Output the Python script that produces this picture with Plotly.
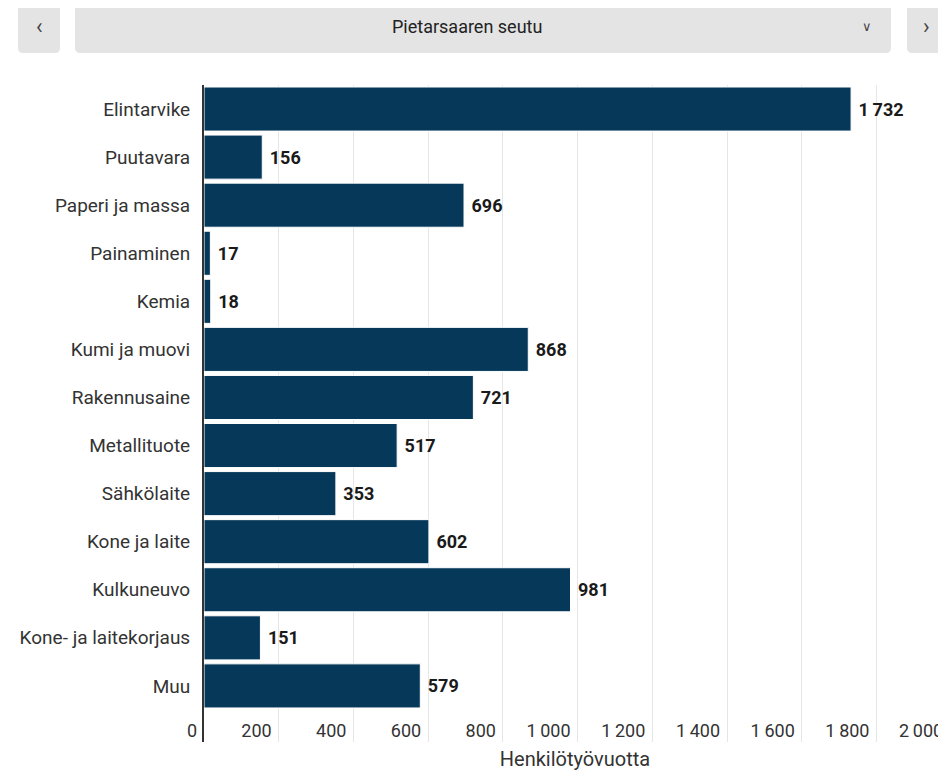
import plotly.graph_objects as go

categories = ["Elintarvike", "Puutavara", "Paperi ja massa", "Painaminen", "Kemia",
              "Kumi ja muovi", "Rakennusaine", "Metallituote", "Sähkölaite",
              "Kone ja laite", "Kulkuneuvo", "Kone- ja laitekorjaus", "Muu"]
values = [1732, 156, 696, 17, 18, 868, 721, 517, 353, 602, 981, 151, 579]
tick_values = [0, 200, 400, 600, 800, 1000, 1200, 1400, 1600, 1800, 2000]
region = "Pietarsaaren seutu"
axis_title = "Henkilötyövuotta"

# page body has an 8px margin; figure sized to end at the viewport edge
OFF = 8
W, H = 946 - OFF, 771 - OFF
PLOT_LEFT, PLOT_TOP, PLOT_BOTTOM = 204, 85, 742   # in page pixels
L, R = PLOT_LEFT - OFF, 0
T = PLOT_TOP - OFF
B = H - (PLOT_BOTTOM - OFF)
PX_PER_UNIT = 0.3736
x_max = (W - L - R) / PX_PER_UNIT

def fmt(v):
    return f"{v:,}".replace(",", "\u2009")

def px(x):  # page px -> paper
    return (x - OFF - L) / (W - L - R)

def py(y):  # page px -> paper
    return (H - B - (y - OFF)) / (H - B - T)

BAR = "#06385a"
GRID = "#e6e6e6"
FONT = "Roboto"
TXT = "#333333"

fig = go.Figure(go.Bar(
    x=values, y=categories, orientation="h",
    marker=dict(color=BAR, line=dict(color="#ffffff", width=1)),
    text=["\u00a0" + fmt(v) for v in values],
    textposition="outside", cliponaxis=False,
    textfont=dict(family=FONT, size=18, color="#1a1a1a", weight="bold"),
    hoverinfo="skip",
))

n = len(categories)
extra = 32 / 48
fig.update_yaxes(
    range=[n - 0.5 + extra, -0.5],
    showline=True, linecolor="#333333", linewidth=2,
    showgrid=False, ticks="", ticklabelstandoff=8,
    tickfont=dict(family=FONT, size=19, color=TXT),
    fixedrange=True,
)
fig.update_xaxes(
    range=[0, x_max],
    tickvals=tick_values, ticktext=[fmt(v) for v in tick_values],
    showgrid=True, gridcolor=GRID, gridwidth=1,
    zeroline=False, showline=False, ticks="",
    ticklabelposition="inside left", ticklabeloverflow="allow",
    ticklabelshift=-7, ticklabelstandoff=-5,
    tickfont=dict(family=FONT, size=18, color=TXT),
    title=dict(text=axis_title, font=dict(family=FONT, size=20, color=TXT), standoff=16),
    fixedrange=True,
)

annotations = []
# tick labels that fall beyond the visible plot edge
for v in tick_values:
    if v > x_max:
        annotations.append(dict(x=v / x_max, xref="paper", y=py(730), yref="paper", text=fmt(v),
                                showarrow=False, xanchor="right", yanchor="middle", xshift=-6,
                                font=dict(family=FONT, size=18, color=TXT)))

shapes = []
def rrect(x0, y0, x1, y1, r=5):
    a0, a1 = px(x0), px(x1)
    b0, b1 = py(y0), py(y1)
    rx = r / (W - L - R)
    ry = r / (H - B - T)
    path = (f"M {a0+rx},{b0} L {a1-rx},{b0} Q {a1},{b0} {a1},{b0-ry} "
            f"L {a1},{b1+ry} Q {a1},{b1} {a1-rx},{b1} L {a0+rx},{b1} "
            f"Q {a0},{b1} {a0},{b1+ry} L {a0},{b0-ry} Q {a0},{b0} {a0+rx},{b0} Z")
    return dict(type="path", path=path, xref="paper", yref="paper",
                fillcolor="#e4e4e4", line=dict(width=0), layer="above")

shapes.append(rrect(18, 2, 60, 53))
shapes.append(rrect(75, 2, 891, 53))
shapes.append(rrect(907, 2, 975, 53))

def ann(x, y, text, size=15, color="#222222"):
    annotations.append(dict(x=px(x), y=py(y), xref="paper", yref="paper", text=text,
                            showarrow=False, xanchor="center", yanchor="middle",
                            font=dict(family=FONT, size=size, color=color)))

ann(39, 27, "‹", 22, "#444444")
ann(467, 27, region, 18, "#222222")
ann(867, 27, "∨", 13, "#444444")
ann(926, 27, "›", 22, "#444444")

fig.update_layout(
    width=W, height=H,
    margin=dict(l=L, r=R, t=T, b=B),
    paper_bgcolor="#ffffff", plot_bgcolor="#ffffff",
    bargap=0.083, showlegend=False,
    separators=", ",
    shapes=shapes, annotations=annotations,
    font=dict(family=FONT),
)

fig.write_html("out.html", config={"displayModeBar": False})
